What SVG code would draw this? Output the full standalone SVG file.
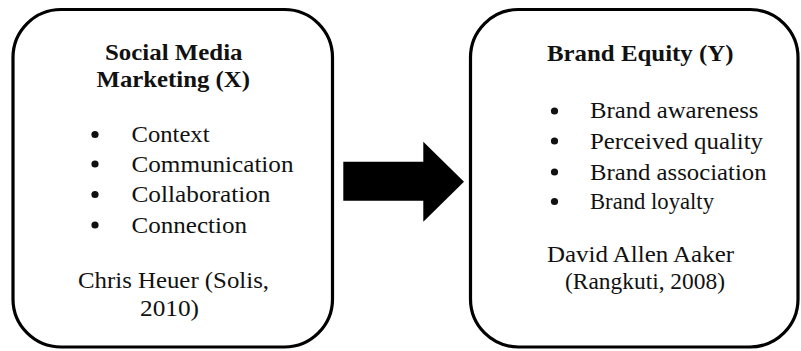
<svg xmlns="http://www.w3.org/2000/svg" width="801" height="351" viewBox="0 0 801 351">
<style>
.box{fill:#fff;stroke:#000;stroke-width:3.2}
.t{font-family:'Liberation Serif','Times New Roman',Times,serif;font-size:24px;fill:#111}
.b{font-weight:bold}
.dot{fill:#111}
</style>
<rect width="801" height="351" fill="#fff"/>
<g id="node-smm">
<rect class="box" x="13" y="9.5" width="319.5" height="337.5" rx="48" ry="48"/>
<text class="t b" x="105" y="59.5" textLength="137.5" lengthAdjust="spacingAndGlyphs">Social Media</text>
<text class="t b" x="96.5" y="86.7" textLength="153.5" lengthAdjust="spacingAndGlyphs">Marketing (X)</text>
<circle class="dot" cx="95" cy="134.5" r="3.6"/>
<circle class="dot" cx="95" cy="164" r="3.6"/>
<circle class="dot" cx="95" cy="194.5" r="3.6"/>
<circle class="dot" cx="95" cy="225" r="3.6"/>
<text class="t" x="131.5" y="141.7" textLength="78" lengthAdjust="spacingAndGlyphs">Context</text>
<text class="t" x="131.5" y="171.5" textLength="162" lengthAdjust="spacingAndGlyphs">Communication</text>
<text class="t" x="131.5" y="201.7" textLength="139" lengthAdjust="spacingAndGlyphs">Collaboration</text>
<text class="t" x="131.5" y="232.5" textLength="115.5" lengthAdjust="spacingAndGlyphs">Connection</text>
<text class="t" x="78" y="287.5" textLength="191" lengthAdjust="spacingAndGlyphs">Chris Heuer (Solis,</text>
<text class="t" x="140" y="315.5" textLength="59" lengthAdjust="spacingAndGlyphs">2010)</text>
</g>
<g id="node-be">
<rect class="box" x="470.5" y="9.5" width="327.5" height="337.5" rx="48" ry="48"/>
<text class="t b" x="547" y="60.7" textLength="186.5" lengthAdjust="spacingAndGlyphs">Brand Equity (Y)</text>
<circle class="dot" cx="554.5" cy="111" r="3.6"/>
<circle class="dot" cx="554.5" cy="141" r="3.6"/>
<circle class="dot" cx="554.5" cy="172" r="3.6"/>
<circle class="dot" cx="554.5" cy="201.5" r="3.6"/>
<text class="t" x="590" y="118.3" textLength="168.5" lengthAdjust="spacingAndGlyphs">Brand awareness</text>
<text class="t" x="590" y="148.8" textLength="173" lengthAdjust="spacingAndGlyphs">Perceived quality</text>
<text class="t" x="590" y="179.5" textLength="176.5" lengthAdjust="spacingAndGlyphs">Brand association</text>
<text class="t" x="590" y="208.5" textLength="124" lengthAdjust="spacingAndGlyphs">Brand loyalty</text>
<text class="t" x="547" y="262" textLength="187" lengthAdjust="spacingAndGlyphs">David Allen Aaker</text>
<text class="t" x="565" y="288.5" textLength="160" lengthAdjust="spacingAndGlyphs">(Rangkuti, 2008)</text>
</g>
<g id="connectors">
<polygon fill="#000" points="343.3,161.7 423.3,161.7 423.3,141.7 464,181.7 423.3,221.7 423.3,200.7 343.3,200.7"/>
</g>
</svg>
